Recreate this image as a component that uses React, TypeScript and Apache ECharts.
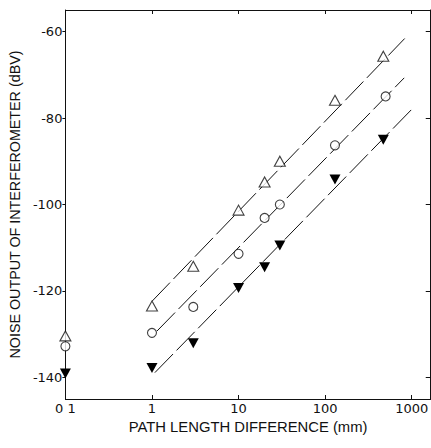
import React, { useEffect, useRef } from "react";
import * as echarts from "echarts";

// Measured noise output (dBV) versus path length difference (mm)
const triangleX = [0.1, 1, 3, 10, 20, 30, 130, 470];
const triangleY = [-130.4, -123.5, -114.3, -101.3, -94.8, -90.0, -75.9, -65.7];
const circleX = [0.1, 1, 3, 10, 20, 30, 130, 500];
const circleY = [-132.8, -129.7, -123.7, -111.4, -103.1, -100.0, -86.3, -75.0];
const filledX = [0.1, 1, 3, 10, 20, 30, 130, 470];
const filledY = [-139.1, -137.8, -132.1, -119.3, -114.5, -109.5, -94.2, -85.0];

// Fitted 20 dB/decade lines (end points)
const fitTriangleX = [1, 830];
const fitTriangleY = [-122.4, -61.6];
const fitCircleX = [1.14, 820];
const fitCircleY = [-129.3, -70.7];
const fitFilledX = [1.08, 1000];
const fitFilledY = [-138.9, -78.0];

const yTicks = [-140, -120, -100, -80, -60];
const xTickLabels: Record<string, string> = {
  "-1": "0 1",
  "0": "1",
  "1": "10",
  "2": "100",
  "3": "1000",
};

const pairs = (xs: number[], ys: number[]) => xs.map((x, i) => [x, ys[i]]);

const INK = "#111";
const TICK_FONT = "DejaVu Sans, Liberation Sans, Arial, sans-serif";
const NAME_FONT = "Liberation Sans, Arial, Helvetica, sans-serif";

export default function App() {
  const ref = useRef<HTMLDivElement>(null);

  useEffect(() => {
    if (!ref.current) return;
    const chart = echarts.init(ref.current, undefined, { renderer: "svg" });

    const fitLine = (xs: number[], ys: number[]) => ({
      type: "line",
      data: pairs(xs, ys),
      showSymbol: false,
      symbol: "none",
      lineStyle: { color: INK, width: 1, type: [26, 5] },
      z: 2,
      silent: true,
    });

    const xBase = {
      type: "log",
      logBase: 10,
      min: 0.1,
      max: 1660,
      splitLine: { show: false },
      minorTick: { show: false },
      axisLine: { show: true, lineStyle: { color: INK, width: 1 } },
      axisTick: { show: true, inside: true, length: 4, lineStyle: { color: INK } },
    };

    const yBase = {
      type: "value",
      min: -145,
      max: -55,
      splitLine: { show: false },
      axisLine: { show: true, lineStyle: { color: INK, width: 1 } },
    };

    chart.setOption({
      animation: false,
      backgroundColor: "#fff",
      textStyle: { fontFamily: TICK_FONT, color: INK },
      grid: { left: 61, right: -2, top: 10, bottom: 49, containLabel: false },
      xAxis: [
        {
          ...xBase,
          position: "bottom",
          name: "PATH LENGTH DIFFERENCE (mm)",
          nameLocation: "middle",
          nameGap: 19,
          nameTextStyle: { fontSize: 14.8, color: INK, fontFamily: NAME_FONT },
          axisLabel: {
            fontSize: 13,
            color: INK,
            fontFamily: TICK_FONT,
            margin: 3,
            showMaxLabel: false,
            formatter: (v: number) => {
              const e = Math.log10(v);
              const r = Math.round(e);
              if (Math.abs(e - r) > 1e-6) return "";
              return xTickLabels[String(r)] ?? "";
            },
          },
        },
        {
          ...xBase,
          position: "top",
          axisLabel: { show: false },
        },
      ],
      yAxis: [
        {
          ...yBase,
          position: "left",
          name: "NOISE OUTPUT OF INTERFEROMETER (dBV)",
          nameLocation: "middle",
          nameGap: 40,
          nameTextStyle: { fontSize: 14.3, color: INK, fontFamily: NAME_FONT },
          axisTick: {
            show: true,
            inside: false,
            length: 3,
            customValues: yTicks,
            lineStyle: { color: INK },
          },
          axisLabel: {
            fontSize: 13,
            color: INK,
            fontFamily: TICK_FONT,
            margin: 3,
            customValues: yTicks,
            formatter: (v: number) => String(v),
          },
        },
        {
          ...yBase,
          position: "right",
          axisTick: {
            show: true,
            inside: true,
            length: 5,
            customValues: yTicks,
            lineStyle: { color: INK },
          },
          axisLabel: { show: false },
        },
      ],
      series: [
        fitLine(fitTriangleX, fitTriangleY),
        fitLine(fitCircleX, fitCircleY),
        fitLine(fitFilledX, fitFilledY),
        {
          type: "scatter",
          data: pairs(triangleX, triangleY),
          symbol: "triangle",
          symbolSize: [11, 10],
          itemStyle: { color: "#fff", borderColor: INK, borderWidth: 1.1 },
          z: 5,
          clip: false,
        },
        {
          type: "scatter",
          data: pairs(circleX, circleY),
          symbol: "circle",
          symbolSize: 9,
          itemStyle: { color: "#fff", borderColor: INK, borderWidth: 1.1 },
          z: 5,
          clip: false,
        },
        {
          type: "scatter",
          data: pairs(filledX, filledY),
          symbol: "triangle",
          symbolRotate: 180,
          symbolSize: [11, 10],
          itemStyle: { color: "#000", opacity: 1 },
          z: 5,
          clip: false,
        },
      ],
    });

    return () => chart.dispose();
  }, []);

  return (
    <div
      ref={ref}
      style={{ position: "absolute", left: 0, top: 0, width: 431, height: 448 }}
    />
  );
}
